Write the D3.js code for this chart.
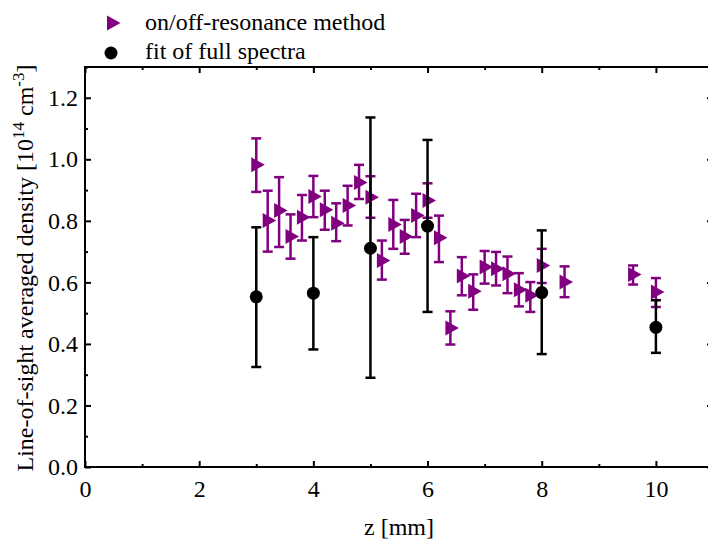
<!DOCTYPE html>
<html>
<head>
  <title>Line-of-sight averaged density</title>
  <style>
    body { margin: 0; background: #fff; }
    svg text { font-family: "Liberation Serif", Tinos, "Times New Roman", Times, "DejaVu Serif", serif; }
  </style>
</head>
<body>
  <div id="chart-container"></div>
  <script src="https://d3js.org/d3.v7.min.js"></script>
  <script>
    // on/off-resonance method (purple triangles)
    const zOnOff = [3.0, 3.2, 3.4, 3.6, 3.8, 4.0, 4.2, 4.4, 4.6, 4.8, 5.0, 5.2, 5.4, 5.6, 5.8, 6.0, 6.2, 6.4, 6.6, 6.8, 7.0, 7.2, 7.4, 7.6, 7.8, 8.0, 8.4, 9.6, 10.0];
    const nOnOff = [0.982, 0.801, 0.834, 0.749, 0.812, 0.879, 0.836, 0.792, 0.850, 0.925, 0.877, 0.671, 0.788, 0.749, 0.817, 0.866, 0.745, 0.452, 0.621, 0.571, 0.650, 0.644, 0.628, 0.576, 0.558, 0.655, 0.601, 0.626, 0.569];
    const hiOnOff = [1.068, 0.898, 0.942, 0.821, 0.884, 0.946, 0.898, 0.857, 0.914, 0.982, 0.945, 0.736, 0.868, 0.803, 0.888, 0.922, 0.817, 0.506, 0.682, 0.626, 0.702, 0.699, 0.684, 0.630, 0.601, 0.709, 0.652, 0.655, 0.614];
    const loOnOff = [0.894, 0.700, 0.715, 0.677, 0.736, 0.812, 0.771, 0.734, 0.785, 0.871, 0.810, 0.609, 0.709, 0.693, 0.747, 0.810, 0.666, 0.398, 0.558, 0.511, 0.596, 0.590, 0.565, 0.522, 0.504, 0.598, 0.552, 0.593, 0.520];

    // fit of full spectra (black circles)
    const zFit = [3, 4, 5, 6, 8, 10];
    const nFit = [0.553, 0.565, 0.711, 0.783, 0.567, 0.454];
    const hiFit = [0.779, 0.747, 1.136, 1.063, 0.769, 0.542];
    const loFit = [0.325, 0.382, 0.290, 0.504, 0.367, 0.371];

    const xMajor = [0, 2, 4, 6, 8, 10];
    const xMinor = [1, 3, 5, 7, 9, 11];
    const yMajor = [0.0, 0.2, 0.4, 0.6, 0.8, 1.0, 1.2];
    const yMinor = [0.1, 0.3, 0.5, 0.7, 0.9, 1.1, 1.3];

    const width = 708;
    const height = 542;
    const margin = { top: 67, right: -5, bottom: 75, left: 85 };
    const innerWidth = width - margin.left - margin.right;
    const innerHeight = height - margin.top - margin.bottom;
    const purple = '#800080';
    const serif = '"Liberation Serif", Tinos, "Times New Roman", Times, "DejaVu Serif", serif';

    const svg = d3.select('#chart-container')
      .append('svg')
      .attr('width', width)
      .attr('height', height)
      .attr('font-family', serif);

    const g = svg.append('g')
      .attr('transform', `translate(${margin.left},${margin.top})`);

    const xScale = d3.scaleLinear().domain([0, 11]).range([0, innerWidth]);
    const yScale = d3.scaleLinear().domain([0, 1.3]).range([innerHeight, 0]);

    const styleAxis = sel => {
      sel.attr('font-family', serif).attr('font-size', 24);
      sel.select('.domain').remove();
      sel.selectAll('line').attr('stroke', '#000').attr('stroke-width', 2);
      sel.selectAll('text').attr('fill', '#000');
      // drop the empty labels of tick-only axes
      sel.selectAll('text').filter(function () { return !this.textContent; }).remove();
    };

    // bottom
    g.append('g').attr('transform', `translate(0,${innerHeight})`)
      .call(d3.axisBottom(xScale).tickValues(xMajor).tickSize(-6).tickPadding(13).tickFormat(d3.format('d')))
      .call(styleAxis);
    g.append('g').attr('transform', `translate(0,${innerHeight})`)
      .call(d3.axisBottom(xScale).tickValues(xMinor).tickSize(-3).tickFormat(''))
      .call(styleAxis);
    // top
    g.append('g')
      .call(d3.axisTop(xScale).tickValues(xMajor).tickSize(-6).tickFormat(''))
      .call(styleAxis);
    g.append('g')
      .call(d3.axisTop(xScale).tickValues(xMinor).tickSize(-3).tickFormat(''))
      .call(styleAxis);
    // left
    g.append('g')
      .call(d3.axisLeft(yScale).tickValues(yMajor).tickSize(-6).tickPadding(7).tickFormat(d3.format('.1f')))
      .call(styleAxis);
    g.append('g')
      .call(d3.axisLeft(yScale).tickValues(yMinor).tickSize(-3).tickFormat(''))
      .call(styleAxis);
    // right (spine sits just past the window edge)
    g.append('g').attr('transform', `translate(${innerWidth},0)`)
      .call(d3.axisRight(yScale).tickValues(yMajor).tickSize(-6).tickFormat(''))
      .call(styleAxis);
    g.append('g').attr('transform', `translate(${innerWidth},0)`)
      .call(d3.axisRight(yScale).tickValues(yMinor).tickSize(-3).tickFormat(''))
      .call(styleAxis);

    g.append('rect')
      .attr('width', innerWidth)
      .attr('height', innerHeight)
      .attr('fill', 'none')
      .attr('stroke', '#000')
      .attr('stroke-width', 2);

    // axis titles
    g.append('text')
      .attr('text-anchor', 'middle')
      .attr('x', xScale(5.5))
      .attr('y', innerHeight + 68)
      .attr('font-size', 24)
      .text('z [mm]');

    const yTitle = svg.append('text')
      .attr('text-anchor', 'middle')
      .attr('transform', 'translate(33,268) rotate(-90)')
      .attr('font-size', 24);
    yTitle.append('tspan').text('Line-of-sight averaged density [10');
    yTitle.append('tspan').attr('dy', -9).attr('font-size', 17).text('14');
    yTitle.append('tspan').attr('dy', 9).text(' cm');
    yTitle.append('tspan').attr('dy', -9).attr('font-size', 17).text('-3');
    yTitle.append('tspan').attr('dy', 9).text(']');

    const capW = 5;
    const drawErrors = (zs, lo, hi, color) => {
      const eg = g.append('g');
      const idx = d3.range(zs.length);
      eg.selectAll(null).data(idx).enter().append('line')
        .attr('x1', i => xScale(zs[i])).attr('x2', i => xScale(zs[i]))
        .attr('y1', i => yScale(lo[i])).attr('y2', i => yScale(hi[i]))
        .attr('stroke', color).attr('stroke-width', 2.5);
      [lo, hi].forEach(arr => {
        eg.selectAll(null).data(idx).enter().append('line')
          .attr('x1', i => xScale(zs[i]) - capW).attr('x2', i => xScale(zs[i]) + capW)
          .attr('y1', i => yScale(arr[i])).attr('y2', i => yScale(arr[i]))
          .attr('stroke', color).attr('stroke-width', 2.5);
      });
    };

    const triPath = 'M-5,-7.5L8.5,0L-5,7.5Z';

    // on/off-resonance
    drawErrors(zOnOff, loOnOff, hiOnOff, purple);
    g.append('g').selectAll('path').data(d3.range(zOnOff.length)).enter().append('path')
      .attr('d', triPath)
      .attr('transform', i => `translate(${xScale(zOnOff[i])},${yScale(nOnOff[i])})`)
      .attr('fill', purple);

    // full spectra fit
    drawErrors(zFit, loFit, hiFit, '#000');
    g.append('g').selectAll('circle').data(d3.range(zFit.length)).enter().append('circle')
      .attr('cx', i => xScale(zFit[i]))
      .attr('cy', i => yScale(nFit[i]))
      .attr('r', 6.5)
      .attr('fill', '#000');

    // legend
    const legend = svg.append('g').attr('font-size', 24);
    legend.append('path').attr('d', triPath).attr('transform', 'translate(112,23)').attr('fill', purple);
    legend.append('text').attr('x', 145).attr('y', 30).text('on/off-resonance method');
    legend.append('circle').attr('cx', 111).attr('cy', 53).attr('r', 6.5).attr('fill', '#000');
    legend.append('text').attr('x', 145).attr('y', 59).text('fit of full spectra');
  </script>
</body>
</html>
